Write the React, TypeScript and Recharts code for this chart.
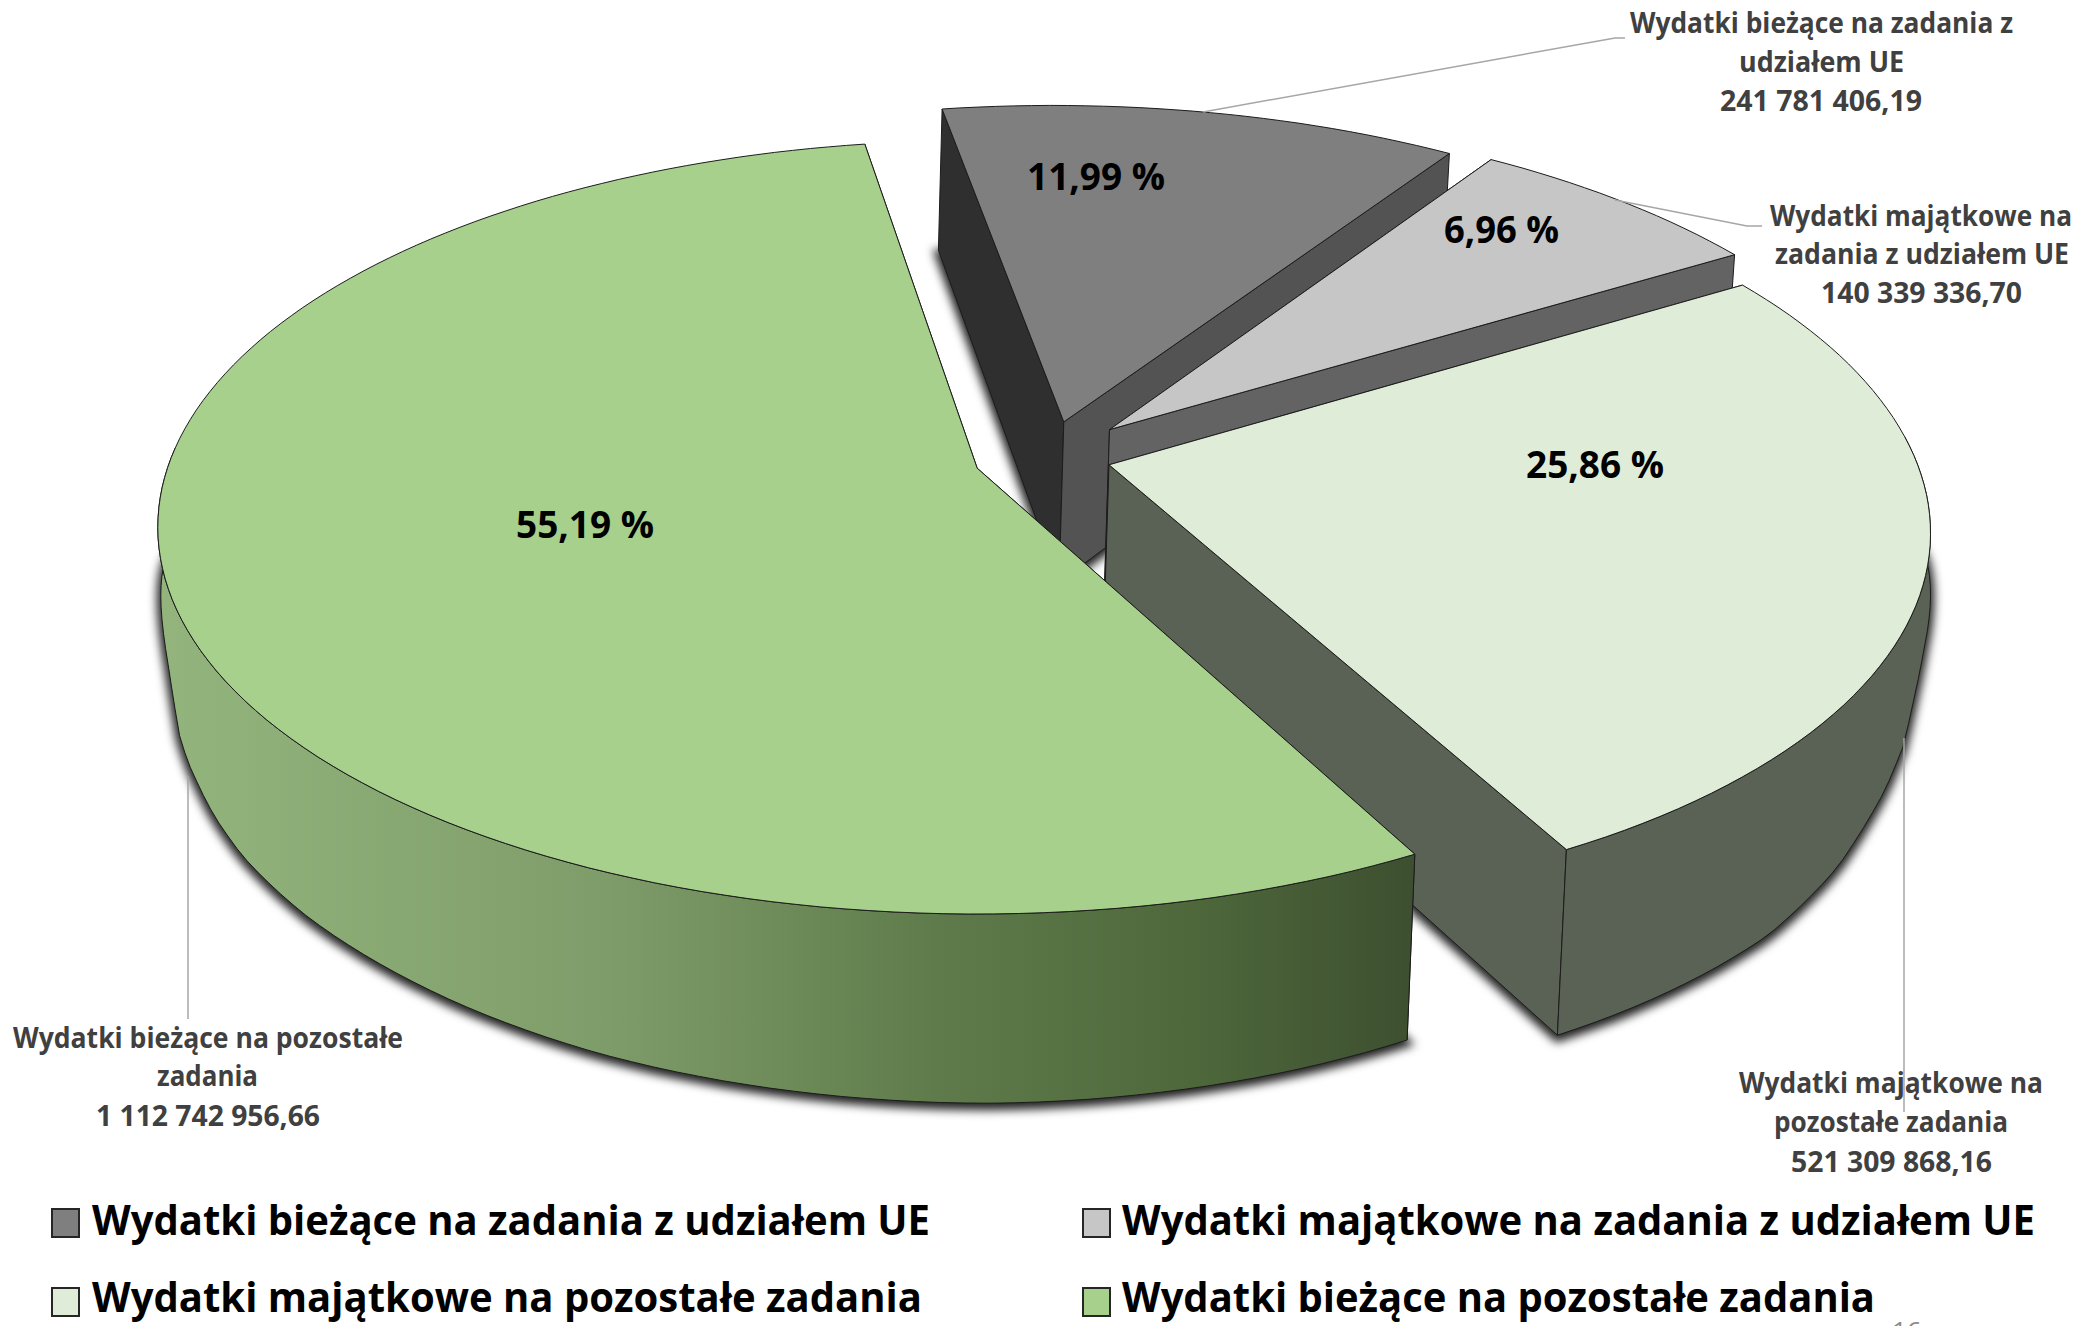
import React from "react";
import { PieChart, Pie, Legend } from "recharts";

const NAMES = [
  "Wydatki bieżące na zadania z udziałem UE",
  "Wydatki majątkowe na zadania z udziałem UE",
  "Wydatki majątkowe na pozostałe zadania",
  "Wydatki bieżące na pozostałe zadania",
];
const VALUES = [241781406.19, 140339336.7, 521309868.16, 1112742956.66];

const FILLS = ["#7f7f7f", "#c6c6c6", "#dfecd8", "#a6d08b"];
const START_WALL = ["#2f2f2f", "#636363", "#5a6155", "#5a6155"];
const END_WALL = ["#535353", "#636363", "#5a6155", "#3f5131"];
const RIM_WALL = ["#535353", "#636363", "#5a6155", "url(#greenWall)"];

const data = NAMES.map((name, i) => ({ name, value: VALUES[i] }));

// the slice tips were measured as offsets on the pie's plane
const EXPLODE = [
  [0.108, -0.127],
  [0.165, -0.106],
  [0.162, -0.011],
  [-0.001, -0.002],
];

const SQUASH = 0.4667;
const PERSPECTIVE = 0.1525;

const project = (cx: number, cy: number, r: number, u: number, v: number) => {
  const w = 1 - PERSPECTIVE * v;
  return [cx + (r * u) / w, cy + (r * SQUASH * v) / w];
};

// the wall gets shorter towards both far sides of the pie: [x, how much shorter]
const WALL_TAPER = [
  [157, 100],
  [165, 85],
  [177, 45],
  [185, 37],
  [212, 24],
  [240, 17],
  [303, 12],
  [467, 7],
  [600, 4],
  [1000, 0],
  [1780, 0],
  [1850, 10],
  [1890, 35],
  [1907, 52],
  [1915, 75],
  [1925, 100],
  [1935, 110],
];

const taper = (x: number) => {
  if (x <= WALL_TAPER[0][0]) return WALL_TAPER[0][1];
  for (let i = 1; i < WALL_TAPER.length; i++) {
    const [x1, g1] = WALL_TAPER[i];
    const [x0, g0] = WALL_TAPER[i - 1];
    if (x <= x1) return g0 + ((g1 - g0) * (x - x0)) / (x1 - x0);
  }
  return WALL_TAPER[WALL_TAPER.length - 1][1];
};

// the lower rim of the pie, as a shift of the upper one
const lower = ([x, y]: number[]) => [
  x + 3 - (x - 157) * 0.0085 + Math.max(0, x - 1850) * 0.15,
  y + 142 + (y - 111) * 0.059 - taper(x),
];

const toPath = (pts: number[][]) =>
  "M" + pts.map((p) => `${p[0].toFixed(1)},${p[1].toFixed(1)}`).join("L") + "Z";

const sliceGeometry = (props: any) => {
  const { cx, cy, outerRadius, startAngle, endAngle, index } = props;
  const [ox, oy] = EXPLODE[index];
  const tip = project(cx, cy, outerRadius, ox, oy);
  const steps = Math.max(8, Math.ceil(Math.abs(endAngle - startAngle) / 1.5));
  const arc: number[][] = [];
  const front: number[][] = [];
  for (let s = 0; s <= steps; s++) {
    const a = ((startAngle + ((endAngle - startAngle) * s) / steps) * Math.PI) / 180;
    const p = project(cx, cy, outerRadius, ox + Math.cos(a), oy - Math.sin(a));
    arc.push(p);
    if (Math.sin(a) < 0.08) front.push(p);
  }
  return { tip, arc, front };
};

const ShadowSlice = (props: any) => {
  const { tip, arc } = sliceGeometry(props);
  return (
    <path
      d={toPath([tip, ...arc].map(lower))}
      fill="#222"
      stroke="#222"
      strokeWidth={8}
      transform="translate(0 3)"
      style={{ filter: "blur(5px)" }}
    />
  );
};

const Slice = (props: any) => {
  const { index } = props;
  const { tip, arc, front } = sliceGeometry(props);
  const first = arc[0];
  const last = arc[arc.length - 1];
  const rim = [...front, ...front.map(lower).reverse()];
  const line = { stroke: "#1c1c1c", strokeWidth: 1, strokeLinejoin: "round" as const };
  return (
    <g>
      <defs>
        <linearGradient id="greenWall" gradientUnits="userSpaceOnUse" x1={157} x2={1416} y1={0} y2={0}>
          <stop offset="0" stopColor="#93b57d" />
          <stop offset="0.35" stopColor="#7f9d6a" />
          <stop offset="0.62" stopColor="#5f7b4b" />
          <stop offset="0.82" stopColor="#4e683b" />
          <stop offset="1" stopColor="#3d4f30" />
        </linearGradient>
      </defs>
      <path d={toPath([tip, first, lower(first), lower(tip)])} fill={START_WALL[index]} {...line} />
      <path d={toPath([tip, last, lower(last), lower(tip)])} fill={END_WALL[index]} {...line} />
      {rim.length > 0 && <path d={toPath(rim)} fill={RIM_WALL[index]} {...line} />}
      <path d={toPath([tip, ...arc])} fill={FILLS[index]} {...line} />
    </g>
  );
};

const FONT = "'Open Sans', sans-serif";

// x, width, baseline of each text line
const NAME_LINES = [
  [
    { t: "Wydatki bieżące na zadania z", x: 1630, w: 383, y: 33 },
    { t: "udziałem UE", x: 1739, w: 165, y: 72 },
  ],
  [
    { t: "Wydatki majątkowe na", x: 1770, w: 302, y: 226 },
    { t: "zadania z udziałem UE", x: 1775, w: 294, y: 264 },
  ],
  [
    { t: "Wydatki majątkowe na", x: 1739, w: 304, y: 1093 },
    { t: "pozostałe zadania", x: 1774, w: 234, y: 1132 },
  ],
  [
    { t: "Wydatki bieżące na pozostałe", x: 13, w: 390, y: 1048 },
    { t: "zadania", x: 157, w: 101, y: 1086 },
  ],
];
const VALUE_POS = [
  { x: 1720, w: 202, y: 111 },
  { x: 1821, w: 201, y: 303 },
  { x: 1791, w: 201, y: 1172 },
  { x: 96, w: 224, y: 1126 },
];
const PCT_POS = [
  { x: 1027, w: 138, y: 190 },
  { x: 1444, w: 115, y: 243 },
  { x: 1526, w: 138, y: 478 },
  { x: 516, w: 138, y: 538 },
];
const LEADERS = [
  "1203,112 1615,38 1625,38",
  "1615,200 1747,226 1762,226",
  "1904,738 1904,1112",
  "188,776 188,1019",
];

const polish = (v: number) => {
  const [whole, frac] = v.toFixed(2).split(".");
  return whole.replace(/\B(?=(\d{3})+$)/g, " ") + "," + frac;
};

const renderLabel = (props: any) => {
  const { index, value, percent } = props;
  const labelStyle = { fontFamily: FONT, fontWeight: 700, fontSize: 28, fill: "#404040" };
  const pct = PCT_POS[index];
  const val = VALUE_POS[index];
  return (
    <g key={index}>
      <polyline points={LEADERS[index]} fill="none" stroke="#a6a6a6" strokeWidth={1.5} />
      {NAME_LINES[index].map((l) => (
        <text key={l.t} x={l.x} y={l.y} textLength={l.w} lengthAdjust="spacingAndGlyphs" {...labelStyle}>
          {l.t}
        </text>
      ))}
      <text x={val.x} y={val.y} textLength={val.w} lengthAdjust="spacingAndGlyphs" {...labelStyle}>
        {polish(value)}
      </text>
      <text
        x={pct.x}
        y={pct.y}
        textLength={pct.w}
        lengthAdjust="spacingAndGlyphs"
        fontFamily={FONT}
        fontWeight={700}
        fontSize={37}
        fill="#000"
      >
        {(percent * 100).toFixed(2).replace(".", ",") + " %"}
      </text>
    </g>
  );
};

const LEGEND_POS = [
  { sx: 52, tx: 92, w: 838, y: 45 },
  { sx: 1083, tx: 1122, w: 913, y: 45 },
  { sx: 52, tx: 92, w: 830, y: 122 },
  { sx: 1083, tx: 1122, w: 753, y: 122 },
];

const LEGEND_BOX_Y = [19, 19, 98, 98];

// both pies report to the legend, only the first four entries are wanted
const renderLegend = ({ payload }: any) => (
  <svg width={2086} height={136} style={{ display: "block" }}>
    {(payload || []).slice(0, NAMES.length).map((p: any, i: number) => (
      <g key={p.value}>
        <rect
          x={LEGEND_POS[i].sx}
          y={LEGEND_BOX_Y[i]}
          width={27}
          height={28}
          fill={FILLS[i]}
          stroke="#262626"
          strokeWidth={2}
        />
        <text
          x={LEGEND_POS[i].tx}
          y={LEGEND_POS[i].y}
          textLength={LEGEND_POS[i].w}
          lengthAdjust="spacingAndGlyphs"
          fontFamily={FONT}
          fontWeight={700}
          fontSize={42}
          fill="#000"
        >
          {p.value}
        </text>
      </g>
    ))}
    <text x={1892} y={150} fontFamily={FONT} fontSize={26} fill="#8b8b8b">
      16
    </text>
  </svg>
);

export default function App() {
  return (
    <div style={{ position: "absolute", left: 0, top: 0, width: 2086, height: 1326, overflow: "hidden", background: "#fff" }}>
      <PieChart width={2086} height={1326} margin={{ top: 0, right: 0, bottom: 0, left: 0 }}>
        <Pie
          data={data}
          dataKey="value"
          nameKey="name"
          cx={978}
          cy={469}
          outerRadius={810}
          startAngle={99.2}
          endAngle={-260.8}
          shape={ShadowSlice}
          legendType="none"
          isAnimationActive={false}
        />
        <Pie
          data={data}
          dataKey="value"
          nameKey="name"
          cx={978}
          cy={469}
          outerRadius={810}
          startAngle={99.2}
          endAngle={-260.8}
          shape={Slice}
          label={renderLabel}
          labelLine={false}
          isAnimationActive={false}
        />
        <Legend
          content={renderLegend}
          itemSorter={null}
          wrapperStyle={{ left: 0, top: 1190, width: 2086, height: 136 }}
        />
      </PieChart>
    </div>
  );
}
